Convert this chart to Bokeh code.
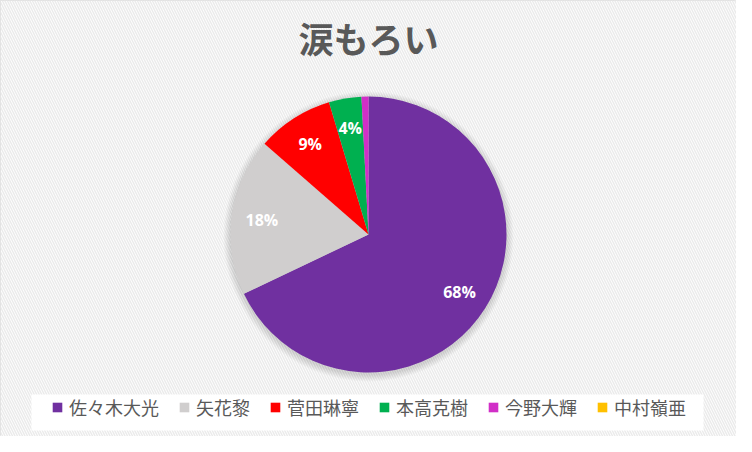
import numpy as np
from bokeh.plotting import figure
from bokeh.models import Range1d, ColumnDataSource, Legend, LegendItem
from bokeh.core.properties import value
from bokeh.embed import file_html
from bokeh.resources import INLINE

title_text = "涙もろい"
names = ["佐々木大光", "矢花黎", "菅田琳寧", "本高克樹", "今野大輝", "中村嶺亜"]
votes = [250, 68, 33, 14, 3, 0]
colors = ["#7030A0", "#D0CECE", "#FF0000", "#00B050", "#D12FC7", "#FFC000"]

REF_H = 452
def yy(v):
    return REF_H - v

p = figure(width=736, height=436, x_range=Range1d(8, 744), y_range=Range1d(8, 444),
           output_backend="svg", toolbar_location=None, min_border=0)
p.axis.visible = False
p.grid.visible = False
p.outline_line_color = "#D9D9D9"
p.background_fill_color = "white"

# hatched background
p.quad(left=8, right=744, bottom=8, top=444, fill_color="white", line_color=None,
       hatch_pattern="\\", hatch_color="#EBEBEB", hatch_scale=5, hatch_weight=1.5)

cx, cy, R = 376, yy(242), 138

# soft shadow
for k in range(1, 8):
    p.circle(x=[cx], y=[cy - 2], radius=R + k, fill_color="black", fill_alpha=0.018, line_color=None)

vals = np.array(votes, dtype=float)
frac = vals / vals.sum()
cum_end = np.cumsum(frac)
cum_start = cum_end - frac
start = np.pi / 2 - 2 * np.pi * cum_start
end = np.pi / 2 - 2 * np.pi * cum_end

nz = frac > 0
src = ColumnDataSource(dict(name=[n for n, k in zip(names, nz) if k], start=start[nz], end=end[nz],
                            color=[c for c, k in zip(colors, nz) if k]))
p.wedge(x=cx, y=cy, radius=R, start_angle="start", end_angle="end", direction="clock",
        fill_color="color", line_color=None, source=src)

# legend-only renderer (no visible marks)
nan = [np.nan] * len(names)
lsrc = ColumnDataSource(dict(l=nan, r=nan, b=nan, t=nan, color=colors))
lr = p.quad(left="l", right="r", bottom="b", top="t", fill_color="color", line_color=None, source=lsrc)

# percentage labels
mid = np.pi / 2 - 2 * np.pi * (cum_start + frac / 2)
rl = 0.78 * R
show = frac >= 0.02
lx = cx + rl * np.cos(mid[show])
ly = cy + rl * np.sin(mid[show])
lt = [f"{round(f * 100)}%" for f in frac[show]]
p.text(x=lx, y=ly, text=lt, text_color="white", text_font=value("Open Sans"),
       text_font_style="bold", text_font_size="16px", text_align="center", text_baseline="middle")

# title
p.text(x=[376], y=[yy(45)], text=[title_text], text_color="#595959",
       text_font=value("Noto Sans CJK JP"), text_font_style="bold", text_font_size="35px",
       text_align="center", text_baseline="middle")

# legend box
p.quad(left=39, right=711, bottom=yy(438), top=yy(402), fill_color="white", line_color=None)

items = [LegendItem(label=n, renderers=[lr], index=i) for i, n in enumerate(names)]
legend = Legend(items=items, orientation="horizontal", location=(51, 16),
                glyph_width=12, glyph_height=12, label_standoff=6, spacing=19,
                padding=0, margin=0, background_fill_alpha=0, border_line_color=None,
                label_text_font_size="18px", label_text_color="#595959",
                label_text_font="Noto Sans CJK JP", label_height=20)
p.add_layout(legend)

open("out.html", "w").write(file_html(p, INLINE))
